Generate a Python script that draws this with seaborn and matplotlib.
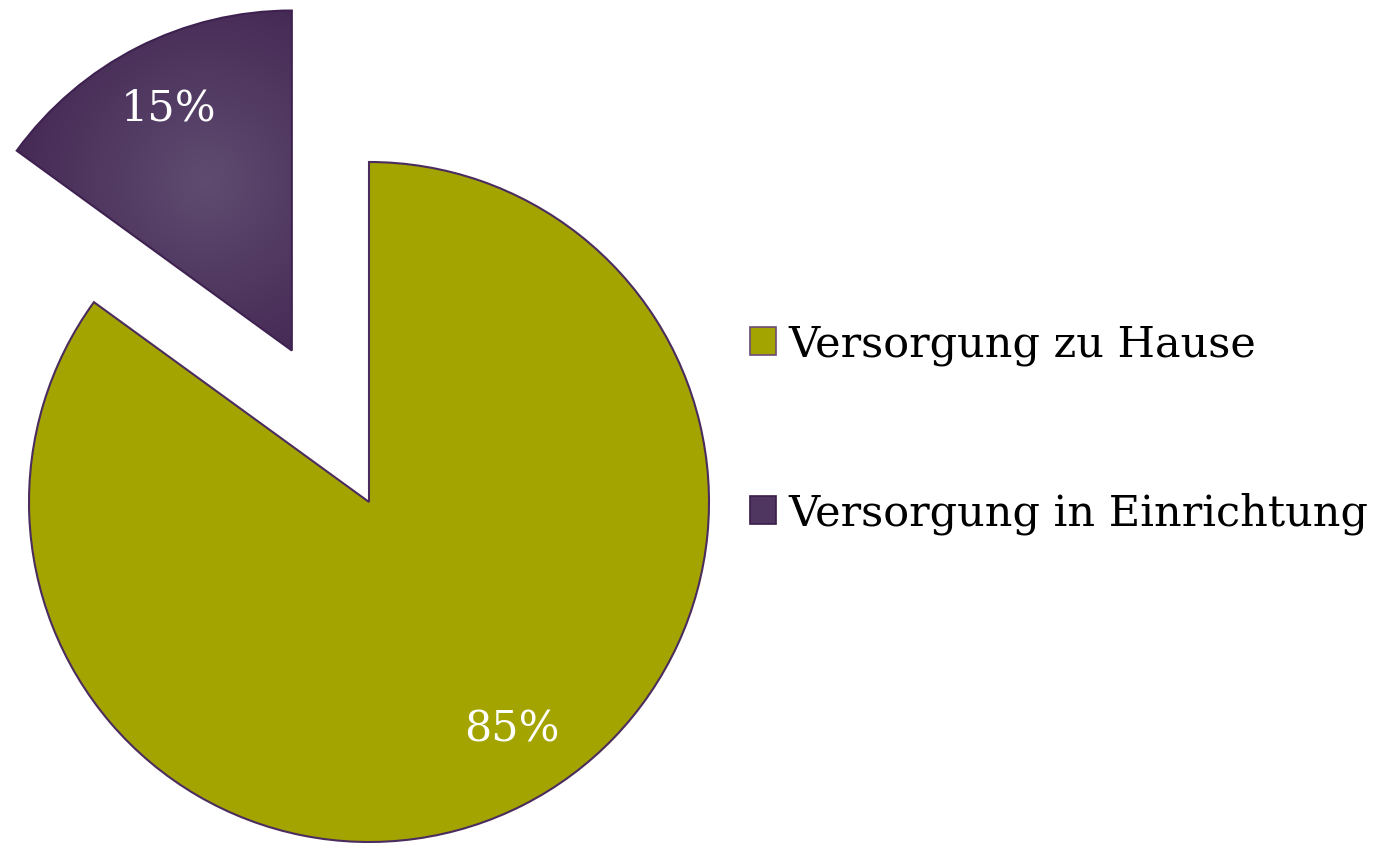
import numpy as np
import matplotlib
matplotlib.use("Agg")
import matplotlib.pyplot as plt
import seaborn as sns
from matplotlib.colors import LinearSegmentedColormap
from matplotlib.patches import Patch

categories = ["Versorgung zu Hause", "Versorgung in Einrichtung"]
values = [85, 15]
colors = ["#A4A400", "#4A3159"]
explode = [0.0, 0.5]

sns.set_theme(style="white")
plt.rcParams['font.family'] = ['DejaVu Serif']

fig = plt.figure(figsize=(13.8, 8.43), dpi=100)
ax = fig.add_axes([0, 0, 1, 1])
R = 340.0
cx, cy = 369.0, 843 - 502.0

wedges, texts, autotexts = ax.pie(
    values, colors=colors, explode=explode, startangle=90, counterclock=False,
    autopct='%1.0f%%', pctdistance=0.8, radius=1.0, frame=True,
    wedgeprops=dict(edgecolor="#4B2C5E", linewidth=1.5),
    textprops=dict(color="white", fontsize=31))
ax.set_xlim(-cx / R, (1380 - cx) / R)
ax.set_ylim(-(cy) / R, (843 - cy) / R)
ax.set_aspect('auto')
ax.axis('off')

# radial gradient on the exploded wedge
w = wedges[1]
w.set_facecolor('none')
w.set_edgecolor("#3E2150")
theta = np.deg2rad((w.theta1 + w.theta2) / 2)
ox, oy = w.center
gx, gy = ox + 0.56 * np.cos(theta), oy + 0.56 * np.sin(theta)
xs = np.linspace(ox - 1.1, ox + 1.1, 400)
ys = np.linspace(oy - 1.1, oy + 1.1, 400)
X, Y = np.meshgrid(xs, ys)
D = np.sqrt((X - gx) ** 2 + (Y - gy) ** 2)
D = np.clip(D / 0.8, 0, 1)
cmap = LinearSegmentedColormap.from_list("pg", ["#5F4B70", "#3A1C49"])
im = ax.imshow(D, extent=[xs[0], xs[-1], ys[0], ys[-1]], origin='lower',
               cmap=cmap, vmin=0, vmax=1, zorder=w.get_zorder() - 0.1,
               interpolation='bilinear', aspect='auto')
im.set_clip_path(w)
ax.set_xlim(-cx / R, (1380 - cx) / R)
ax.set_ylim(-(cy) / R, (843 - cy) / R)
autotexts[1].set_zorder(w.get_zorder() + 1)

# nudge 85% label toward reference location
autotexts[0].set_position((0.42, -0.67))

handles = [Patch(facecolor=colors[0], edgecolor="#6B4A7A", linewidth=1.2),
           Patch(facecolor="#4E3660", edgecolor="#3A1C49", linewidth=1.2)]
leg = ax.legend(handles, categories, loc='center left',
                bbox_to_anchor=(750 / 1380, 1 - 429 / 843),
                frameon=False, fontsize=31, labelspacing=2.94,
                handlelength=0.6, handleheight=0.6, handletextpad=0.3,
                borderaxespad=0, borderpad=0, labelcolor="black")

fig.savefig("out.png", dpi=100)
